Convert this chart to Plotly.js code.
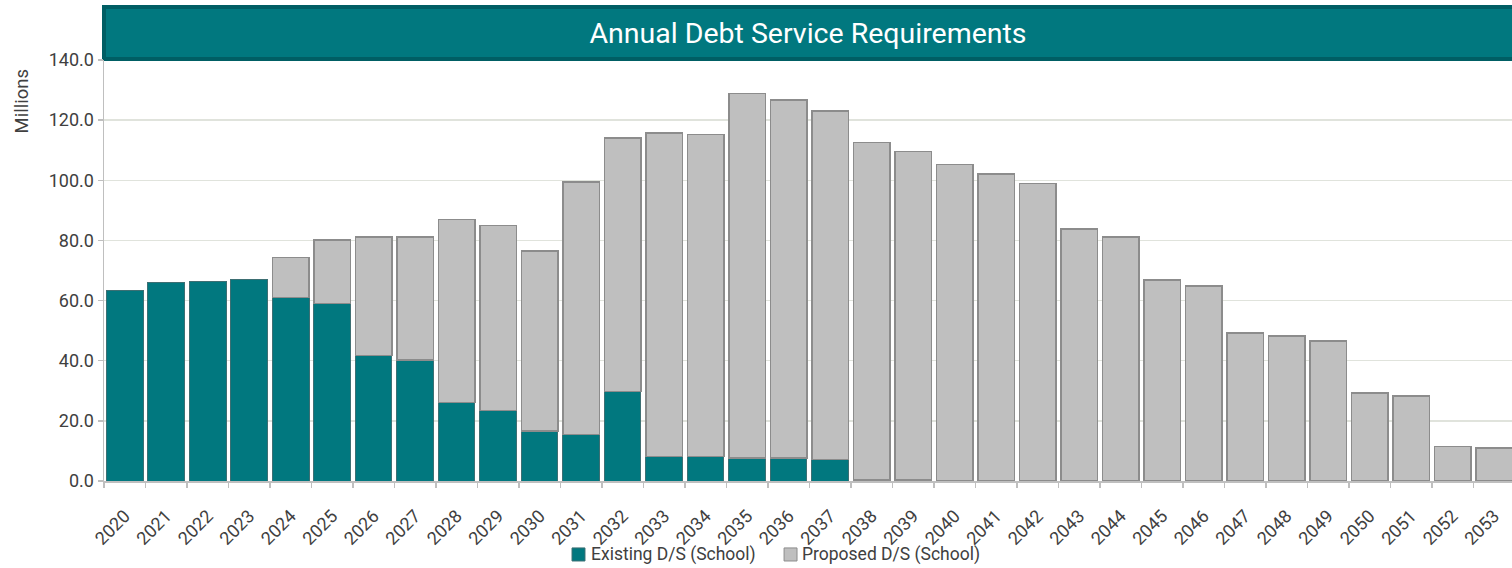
<!DOCTYPE html>
<html>
<head>
<meta charset="utf-8">
<script src="https://cdn.plot.ly/plotly-3.0.1.min.js"></script>
<style>html,body{margin:0;padding:0;background:#fff;}#chart{width:1512px;height:568px;}</style>
</head>
<body>
<div id="chart"></div>
<script>
const years = ["2020","2021","2022","2023","2024","2025","2026","2027","2028","2029","2030","2031","2032","2033","2034","2035","2036","2037","2038","2039","2040","2041","2042","2043","2044","2045","2046","2047","2048","2049","2050","2051","2052","2053"];
const existing = [63.3,66.0,66.5,67.0,61.0,59.1,41.7,40.2,26.1,23.4,16.6,15.5,29.7,8.2,8.2,7.7,7.7,7.2,0.3,0.3,null,null,null,null,null,null,null,null,null,null,null,null,null,null];
const proposed = [null,null,null,null,13.3,21.0,39.5,41.0,60.8,61.5,59.9,83.9,84.4,107.5,107.1,121.2,119.0,115.8,112.2,109.2,105.3,102.1,99.0,83.8,81.1,66.9,64.8,49.2,48.2,46.5,29.3,28.3,11.5,11.0];
const yTickVals = [0,20,40,60,80,100,120,140];
const seriesNames = ['Existing D/S (School)', 'Proposed D/S (School)'];
const seriesColors = ['#01787f', '#bfbfbf'];
const seriesLines = ['#3d6f73', '#8c8c8c'];

const FONT = "Roboto, 'Liberation Sans', sans-serif";
const TXT = '#404040';
const traces = [
  {type:'bar', name:seriesNames[0], x:years, y:existing,
   marker:{color:seriesColors[0], line:{color:seriesLines[0], width:1}}},
  {type:'bar', name:seriesNames[1], x:years, y:proposed,
   marker:{color:seriesColors[1], line:{color:seriesLines[1], width:1.5}}}
];

// custom legend (positions in paper coords, below plot)
const legendPos = [
  {sx0:0.3324, sx1:0.3416, tx:0.3445},
  {sx0:0.4830, sx1:0.4922, tx:0.4943}
];
const legendShapes = legendPos.map((p,i)=>({type:'rect', xref:'paper', yref:'paper', x0:p.sx0, x1:p.sx1, y0:-0.190, y1:-0.159,
  fillcolor:seriesColors[i], line:{color:seriesLines[i], width:1}}));
const legendAnn = legendPos.map((p,i)=>({xref:'paper', yref:'paper', x:p.tx, y:-0.1745, xanchor:'left', yanchor:'middle',
  text:seriesNames[i], showarrow:false, font:{size:17.5, color:TXT, family:FONT}}));

const layout = {
  width:1512, height:568,
  margin:{l:104, r:0, t:60, b:87},
  barmode:'stack', bargap:0.12,
  paper_bgcolor:'#fff', plot_bgcolor:'#fff',
  font:{family:FONT, color:TXT},
  showlegend:false,
  title:{text:'Annual Debt Service Requirements', xref:'paper', x:0.5, xanchor:'center', yref:'container', y:1-33/568, yanchor:'middle', font:{size:28.5, color:'#ffffff', family:FONT}},
  xaxis:{type:'category', range:[-0.5, 33.43], tickangle:-45, autotickangles:[-45], tickson:'boundaries', ticks:'outside', ticklen:5, tickcolor:'#bfbfbf', tickwidth:1.5,
         ticklabelstandoff:16,
         showline:true, linecolor:'#bfbfbf', linewidth:1.5, showgrid:false, tickfont:{size:18, color:TXT}, fixedrange:true},
  yaxis:{range:[0,140], tickvals:yTickVals, tickformat:'.1f', ticks:'outside', ticklen:5, tickcolor:'#bfbfbf', tickwidth:1.5,
         showline:true, linecolor:'#bfbfbf', linewidth:1.5, showgrid:true, gridcolor:'#e0e3dc', gridwidth:1.5, zeroline:false,
         tickfont:{size:18, color:TXT}},
  annotations:[{xref:'paper', yref:'paper', x:(21-104)/1408, y:(481-101.5)/421, xanchor:'center', yanchor:'middle', textangle:-90,
                text:'Millions', showarrow:false, font:{size:18.5, color:TXT, family:FONT}}].concat(legendAnn),
  shapes:[{type:'rect', xref:'paper', yref:'paper', x0:0, x1:1.01, ysizemode:'pixel', yanchor:1, y0:1, y1:53,
           fillcolor:'#01787f', line:{color:'#005e64', width:4}, layer:'below'}].concat(legendShapes)
};
Plotly.newPlot('chart', traces, layout, {displayModeBar:false, staticPlot:true});
</script>
</body>
</html>
